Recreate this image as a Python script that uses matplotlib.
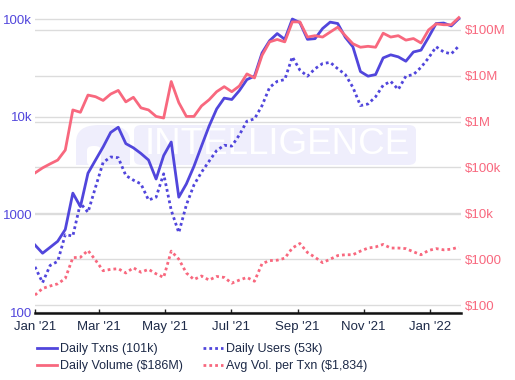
import matplotlib

matplotlib.use("Agg")
import matplotlib.pyplot as plt
import pandas as pd
from matplotlib.patches import FancyBboxPatch, Rectangle
from matplotlib.ticker import FixedLocator, FixedFormatter

# weekly samples, Jan 1 2021 -> Jan 28 2022
dates = pd.date_range("2021-01-01", periods=57, freq="7D")

daily_txns = [485, 400, 460, 530, 700, 1650, 1200, 2640, 3600, 4900,
              6900, 7800, 5300, 4800, 4200, 3600, 2300, 4000, 5500, 1500,
              2050, 3100, 5000, 8000, 12000, 15500, 15000, 18500, 24000, 26000,
              45000, 60000, 71000, 62000, 100000, 92000, 62000, 63000, 80000, 93000,
              90000, 65000, 52000, 29000, 26000, 27000, 40000, 43000, 41000, 37000,
              46000, 48000, 65000, 90000, 91000, 85000, 101000]

daily_users = [290, 200, 300, 330, 620, 600, 1300, 1050, 1900, 3400,
               3870, 3800, 2500, 2240, 2050, 1400, 1500, 2600, 1100, 650,
               1250, 2000, 2700, 3500, 4500, 5100, 5000, 6500, 9000, 9500,
               13000, 20000, 23000, 24000, 41000, 30000, 26000, 31000, 35000, 36000,
               31000, 27000, 20000, 13000, 13500, 16000, 21000, 23000, 19000, 26000,
               27000, 32000, 40000, 52000, 46000, 44000, 53000]

daily_volume = [76e3, 98e3, 120e3, 145e3, 240e3, 1.8e6, 1.6e6, 3.8e6, 3.5e6, 2.9e6,
                4.0e6, 4.8e6, 2.7e6, 3.4e6, 2.0e6, 1.8e6, 1.3e6, 1.2e6, 7.5e6, 2.6e6,
                1.3e6, 1.3e6, 2.2e6, 3.0e6, 4.5e6, 5.8e6, 4.5e6, 6.0e6, 11e6, 9e6,
                28e6, 55e6, 62e6, 55e6, 150e6, 150e6, 70e6, 75e6, 70e6, 90e6,
                115e6, 75e6, 50e6, 42e6, 44e6, 42e6, 85e6, 70e6, 75e6, 60e6,
                65e6, 52e6, 100e6, 136e6, 130e6, 130e6, 186e6]

avg_vol_per_txn = [165, 230, 260, 290, 380, 1080, 1100, 1550, 950, 560,
                   600, 620, 500, 650, 520, 600, 480, 400, 1500, 1000,
                   500, 360, 430, 350, 420, 400, 300, 350, 400, 330,
                   800, 930, 950, 1050, 1750, 2200, 1400, 1100, 840, 1000,
                   1200, 1250, 1250, 1500, 1750, 1850, 2100, 1750, 1750, 1700,
                   1450, 1250, 1550, 1700, 1600, 1650, 1834]

left_ticks = [100, 1000, 10000, 100000]
left_labels = ["100", "1000", "10k", "100k"]
right_ticks = [1e2, 1e3, 1e4, 1e5, 1e6, 1e7, 1e8]
right_labels = ["$100", "$1000", "$10k", "$100k", "$1M", "$10M", "$100M"]
month_ticks = pd.to_datetime(["2021-01-01", "2021-03-01", "2021-05-01", "2021-07-01",
                              "2021-09-01", "2021-11-01", "2022-01-01"])
month_labels = ["Jan '21", "Mar '21", "May '21", "Jul '21", "Sep '21", "Nov '21", "Jan '22"]

BLUE = "#5146dc"
PINK = "#f8687e"
NAVY = "#1d2a48"
GRID = "#dcdcdc"
WM = "#efeefc"
W, H = 515, 380

plt.rcParams["font.family"] = ["Liberation Sans", "DejaVu Sans"]
fig = plt.figure(figsize=(W / 100, H / 100), dpi=100)
rect = [35 / W, 1 - 313 / H, 426 / W, 298 / H]

# watermark, behind everything
fig.add_artist(FancyBboxPatch((76 / W, 1 - 165 / H), 54 / W, 40 / H,
                              boxstyle="round,pad=0,rounding_size=0.045",
                              transform=fig.transFigure, fc=WM, ec="none", zorder=-5))
fig.add_artist(Rectangle((76 / W, 1 - 165 / H), 54 / W, 15 / H, transform=fig.transFigure,
                         fc=WM, ec="none", zorder=-5))
fig.add_artist(FancyBboxPatch((87 / W, 1 - 166 / H), 14 / W, 20 / H,
                              boxstyle="round,pad=0,rounding_size=0.012",
                              transform=fig.transFigure, fc="white", ec="none", zorder=-4))
fig.add_artist(FancyBboxPatch((134 / W, 1 - 165 / H), 282 / W, 40 / H,
                              boxstyle="round,pad=0,rounding_size=0.015",
                              transform=fig.transFigure, fc=WM, ec="none", zorder=-5))
fig.text(277 / W, 1 - 145 / H, "INTELLIGENCE", fontsize=26.5, color="white",
         ha="center", va="center", zorder=-3)

# grid layer (kept under the data lines)
gx = fig.add_axes(rect)
gx.set_yscale("log")
gx.set_ylim(97.7, 110000)
gx.yaxis.set_major_locator(FixedLocator(left_ticks))
gx.yaxis.set_minor_locator(FixedLocator([]))
gx.grid(axis="y", color=GRID, lw=1)
gx2 = gx.twinx()
gx2.set_yscale("log")
gx2.set_ylim(67, 2.12e8)
gx2.yaxis.set_major_locator(FixedLocator(right_ticks))
gx2.yaxis.set_minor_locator(FixedLocator([]))
gx2.grid(axis="y", color=GRID, lw=1)
for a in (gx, gx2):
    a.patch.set_visible(False)
    a.set_xticks([])
    a.tick_params(left=False, right=False, labelleft=False, labelright=False)
    for s in a.spines.values():
        s.set_visible(False)

# data layer
ax = fig.add_axes(rect)
ax.patch.set_visible(False)
ax2 = ax.twinx()

l1, = ax.plot(dates, daily_txns, color=BLUE, lw=2, solid_joinstyle="round")
l3, = ax.plot(dates, daily_users, color=BLUE, lw=2, linestyle=(0, (1, 1.1)))
l2, = ax2.plot(dates, daily_volume, color=PINK, lw=2, solid_joinstyle="round")
l4, = ax2.plot(dates, avg_vol_per_txn, color=PINK, lw=2, linestyle=(0, (1, 1.1)))

ax.set_yscale("log")
ax.set_ylim(97.7, 110000)
ax.yaxis.set_major_locator(FixedLocator(left_ticks))
ax.yaxis.set_major_formatter(FixedFormatter(left_labels))
ax.yaxis.set_minor_locator(FixedLocator([]))
ax2.set_yscale("log")
ax2.set_ylim(67, 2.12e8)
ax2.yaxis.set_major_locator(FixedLocator(right_ticks))
ax2.yaxis.set_major_formatter(FixedFormatter(right_labels))
ax2.yaxis.set_minor_locator(FixedLocator([]))

ax.set_xlim(pd.Timestamp("2021-01-01"), pd.Timestamp("2022-01-30"))
ax.set_xticks(month_ticks)
ax.set_xticklabels(month_labels)

ax.tick_params(axis="y", length=0, pad=2, labelsize=9.5, labelcolor=BLUE)
ax2.tick_params(axis="y", length=0, pad=3, labelsize=9.5, labelcolor=PINK)
ax.tick_params(axis="x", direction="in", length=3, width=1, color="#222222",
               pad=6, labelsize=9.5, labelcolor=NAVY)

for a in (ax, ax2):
    for side in ("top", "left", "right"):
        a.spines[side].set_visible(False)
ax2.spines["bottom"].set_visible(False)
ax.spines["bottom"].set_linewidth(1.8)
ax.spines["bottom"].set_color("#111111")

leg = fig.legend([l1, l2, l3, l4],
                 ["Daily Txns (101k)", "Daily Volume ($186M)",
                  "Daily Users (53k)", "Avg Vol. per Txn ($1,834)"],
                 ncol=2, loc="upper left", bbox_to_anchor=(37 / W, 1 - 343 / H),
                 frameon=False, fontsize=9, handlelength=1.6, handletextpad=0.25,
                 columnspacing=1.6, labelspacing=0.4, borderpad=0, borderaxespad=0)
for t in leg.get_texts():
    t.set_color(NAVY)

fig.savefig("out.png", dpi=100)
